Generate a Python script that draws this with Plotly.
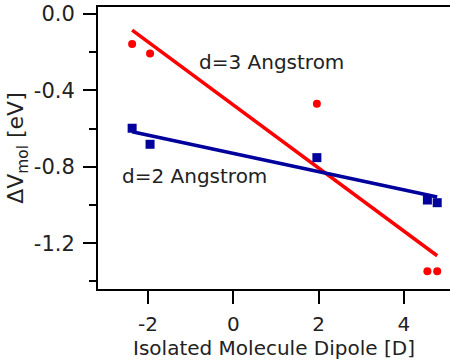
import plotly.graph_objects as go

# Data
dipole = [-2.37, -1.95, 1.96, 4.55, 4.78]
dv_d3 = [-0.157, -0.206, -0.470, -1.347, -1.347]
dv_d2 = [-0.598, -0.682, -0.752, -0.974, -0.988]

fit_x = [-2.37, 4.78]
fit_d3 = [-0.084, -1.266]
fit_d2 = [-0.616, -0.958]

y_ticks = [0.0, -0.4, -0.8, -1.2]
y_tick_labels = ["0.0", "-0.4", "-0.8", "-1.2"]
x_ticks = [-2, 0, 2, 4]
x_tick_labels = ["-2", "0", "2", "4"]

RED = "#ff0000"
BLUE = "#00009c"
FONT = "DejaVu Sans"

fig = go.Figure()
fig.add_trace(go.Scatter(x=fit_x, y=fit_d3, mode="lines",
                         line=dict(color=RED, width=3.5), showlegend=False))
fig.add_trace(go.Scatter(x=fit_x, y=fit_d2, mode="lines",
                         line=dict(color=BLUE, width=3.5), showlegend=False))
fig.add_trace(go.Scatter(x=dipole, y=dv_d3, mode="markers",
                         marker=dict(color=RED, size=8, symbol="circle"),
                         showlegend=False))
fig.add_trace(go.Scatter(x=dipole, y=dv_d2, mode="markers",
                         marker=dict(color=BLUE, size=9, symbol="square"),
                         showlegend=False))

fig.add_annotation(x=0.9, y=-0.252, text="d=3 Angstrom", showarrow=False,
                   font=dict(family=FONT, size=20, color="#222"))
fig.add_annotation(x=-0.9, y=-0.85, text="d=2 Angstrom", showarrow=False,
                   font=dict(family=FONT, size=20, color="#222"))

fig.update_layout(
    width=450, height=362,
    margin=dict(l=98, r=0, t=7, b=73),
    paper_bgcolor="white", plot_bgcolor="white",
    font=dict(family=FONT, size=20, color="#222"),
    xaxis=dict(range=[-3.17, 5.08], tickvals=x_ticks, ticktext=x_tick_labels,
               showgrid=False, zeroline=False, showline=True, linecolor="black",
               linewidth=2, mirror=True, ticks="outside", ticklen=13,
               tickwidth=2, tickcolor="black", ticklabelstandoff=3,
               tickfont=dict(size=20),
               title=dict(text="Isolated Molecule Dipole [D]", standoff=0,
                          font=dict(size=20))),
    yaxis=dict(range=[-1.44, 0.037], tickvals=y_ticks, ticktext=y_tick_labels,
               showgrid=False, zeroline=False, showline=True, linecolor="black",
               linewidth=2, ticks="outside", ticklen=13, tickwidth=2,
               tickcolor="black", ticklabelstandoff=4,
               tickfont=dict(size=21),
               minor=dict(tickvals=[-0.2, -0.6, -1.0, -1.4], ticks="outside",
                          ticklen=7, tickwidth=2, tickcolor="black"),
               title=dict(text="ΔV<sub>mol</sub> [eV]", standoff=4,
                          font=dict(size=22))),
)

fig.write_html("out.html")
